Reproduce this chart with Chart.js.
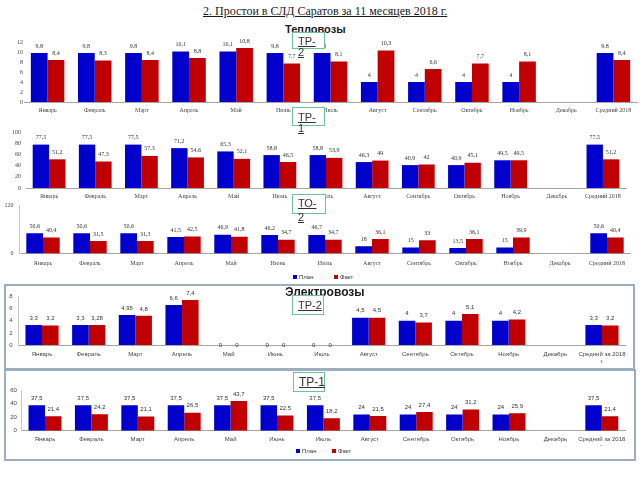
<!DOCTYPE html>
<html lang="ru">
<head>
<meta charset="utf-8">
<script src="https://cdn.jsdelivr.net/npm/chart.js@4"></script>
<style>
  body { margin: 0; background: #fff; }
  #page { position: relative; width: 640px; height: 480px; overflow: hidden; font-family: "Liberation Sans", Arial, sans-serif; }
  canvas { position: absolute; left: 0; }
  .txt { position: absolute; white-space: nowrap; color: #1a1a1a; }
  .tag { position: absolute; box-sizing: border-box; border: 1px solid #6fc295; background: #fff; color: #333; font-size: 11px; text-decoration: underline; padding-left: 5px; }
  .frame { position: absolute; box-sizing: border-box; border: 2px solid #9aaec0; }
  .leg { position: absolute; font-size: 6px; color: #333; white-space: nowrap; }
  .leg i { display: inline-block; width: 4px; height: 4px; margin-right: 2px; vertical-align: middle; }
</style>
</head>
<body>
<div id="page">
  <div class="frame" style="left:4px; top:284px; width:631px; height:86px;"></div>
  <div class="frame" style="left:4px; top:369px; width:632px; height:92px;"></div>

  <canvas id="tepTr2"></canvas>
  <canvas id="tepTr1"></canvas>
  <canvas id="tepTo2"></canvas>
  <canvas id="elTr2"></canvas>
  <canvas id="elTr1"></canvas>

  <div class="txt" style="left:203px; top:4px; font:12px 'Liberation Serif', serif; text-decoration:underline;">2. Простои в СЛД Саратов за 11 месяцев 2018 г.</div>
  <div class="txt" style="left:285px; top:23px; font:bold 11px 'Liberation Sans', Arial, sans-serif;">Тепловозы</div>
  <div class="txt" style="left:285px; top:285px; font:bold 12px 'Liberation Sans', Arial, sans-serif;">Электровозы</div>

  <div class="tag" style="left:292px; top:32px; width:33px; height:17px; line-height:11px; padding-top:3px;">ТР-<br>2</div>
  <div class="tag" style="left:292px; top:107px; width:33px; height:19px; line-height:11px; padding-top:4px;">ТР-<br>1</div>
  <div class="tag" style="left:292px; top:194px; width:34px; height:20px; line-height:14px; padding-top:1px;">ТО-<br>2</div>
  <div class="tag" style="left:292px; top:295px; width:32px; height:20px; line-height:18px; font-family:'Liberation Sans Narrow','Liberation Sans',sans-serif;">ТР-2</div>
  <div class="tag" style="left:293px; top:372px; width:32px; height:20px; line-height:18px; font-size:12px; font-family:'Liberation Sans Narrow','Liberation Sans',sans-serif;">ТР-1</div>

  <div class="leg" style="left:293px; top:274px;"><i style="background:#0000cc"></i>План</div>
  <div class="leg" style="left:334px; top:274px;"><i style="background:#c00000"></i>Факт</div>
  <div class="leg" style="left:296px; top:448px;"><i style="background:#0000cc"></i>План</div>
  <div class="leg" style="left:332px; top:448px;"><i style="background:#c00000"></i>Факт</div>
</div>
<script>
const months = ["Январь", "Февраль", "Март", "Апрель", "Май", "Июнь", "Июль", "Август", "Сентябрь", "Октябрь", "Ноябрь", "Декабрь"];
const tepCats = months.concat(["Средний 2018"]);
const elCats = months.concat([["Средний за 2018", "г."]]);

// Тепловозы ТР-2
const tepTr2Plan = [9.8, 9.8, 9.8, 10.1, 10.1, 9.8, 9.8, 4, 4, 4, 4, null, 9.8];
const tepTr2Fact = [8.4, 8.3, 8.4, 8.8, 10.8, 7.7, 8.1, 10.3, 6.6, 7.7, 8.1, null, 8.4];
const tepTr2Ticks = [0, 2, 4, 6, 8, 10, 12];

// Тепловозы ТР-1
const tepTr1Plan = [77.5, 77.5, 77.5, 71.2, 65.3, 58.8, 58.8, 46.3, 40.9, 40.9, 49.5, null, 77.5];
const tepTr1Fact = [51.2, 47.3, 57.3, 54.6, 52.1, 46.5, 53.9, 49.0, 42.0, 45.1, 49.5, null, 51.2];
const tepTr1Ticks = [0, 20, 40, 60, 80, 100];

// Тепловозы ТО-2
const tepTo2Plan = [50.6, 50.6, 50.6, 41.5, 46.9, 46.2, 46.7, 18, 15, 13.5, 15, null, 50.6];
const tepTo2Fact = [40.4, 31.5, 31.3, 42.5, 41.8, 34.7, 34.7, 36.1, 33, 36.1, 39.9, null, 40.4];
const tepTo2Ticks = [0, 120];

// Электровозы ТР-2
const elTr2Plan = [3.3, 3.3, 4.95, 6.6, 0, 0, 0, 4.5, 4, 4, 4, null, 3.3];
const elTr2Fact = [3.2, 3.28, 4.8, 7.4, 0, 0, 0, 4.5, 3.7, 5.1, 4.2, null, 3.2];
const elTr2Ticks = [0, 2, 4, 6, 8];

// Электровозы ТР-1
const elTr1Plan = [37.5, 37.5, 37.5, 37.5, 37.5, 37.5, 37.5, 24, 24, 24, 24, null, 37.5];
const elTr1Fact = [21.4, 24.2, 21.1, 26.5, 43.7, 22.5, 18.2, 21.5, 27.4, 31.2, 25.9, null, 21.4];
const elTr1Ticks = [0, 20, 40, 60];

const BLUE = "#0000cc";
const RED = "#c00000";
const SERIF = "'Liberation Serif', serif";
const SANS = "'Liberation Sans', Arial, sans-serif";

// values over the bars, with a decimal comma
const valueLabels = {
  id: "valueLabels",
  afterDatasetsDraw(chart, args, opts) {
    const ctx = chart.ctx;
    const base = chart.scales.y.getPixelForValue(0);
    ctx.save();
    ctx.font = opts.font;
    ctx.fillStyle = "#333";
    ctx.textAlign = "center";
    ctx.textBaseline = "middle";
    chart.data.datasets.forEach((ds, i) => {
      chart.getDatasetMeta(i).data.forEach((bar, j) => {
        const v = ds.data[j];
        if (v === null || v === undefined) return;
        const y = v === 0 ? base : bar.y - 7;
        ctx.fillText(String(v).replace(".", ","), bar.x, y);
      });
    });
    ctx.restore();
  }
};

function buildChart(id, cats, plan, fact, yTicks, box) {
  const canvas = document.getElementById(id);
  canvas.width = 640;
  canvas.height = box.height;
  canvas.style.top = box.top + "px";
  const tickFont = { family: box.family, size: 6, lineHeight: 1.15 };

  new Chart(canvas, {
    type: "bar",
    data: {
      labels: cats,
      datasets: [
        { label: "План", data: plan, backgroundColor: BLUE, categoryPercentage: 0.71, barPercentage: 1 },
        { label: "Факт", data: fact, backgroundColor: RED, categoryPercentage: 0.71, barPercentage: 1 }
      ]
    },
    options: {
      responsive: false,
      animation: false,
      layout: { padding: { left: 0, right: 640 - box.right, top: box.areaTop - box.top, bottom: 0 } },
      plugins: {
        legend: { display: false },
        tooltip: { enabled: false },
        valueLabels: { font: "6px " + box.family }
      },
      scales: {
        x: {
          grid: { display: false, drawTicks: false },
          border: { display: true, color: "#a6a6a6" },
          ticks: { font: tickFont, color: "#444", padding: box.xPad, autoSkip: false, maxRotation: 0 },
          afterFit: (s) => { s.height = box.top + box.height - box.areaBottom; }
        },
        y: {
          min: 0,
          max: yTicks[yTicks.length - 1],
          grid: { display: false, drawTicks: false },
          border: { display: box.yLine, color: "#c8c8c8" },
          ticks: { font: tickFont, color: "#444", padding: box.yPad },
          afterBuildTicks: (s) => { s.ticks = yTicks.map((v) => ({ value: v })); },
          afterFit: (s) => { s.width = box.left; }
        }
      }
    },
    plugins: [valueLabels]
  });
}

buildChart("tepTr2", tepCats, tepTr2Plan, tepTr2Fact, tepTr2Ticks,
  { top: 36, height: 80, areaTop: 42, areaBottom: 102, left: 24, right: 637, xPad: 5, yPad: 1, yLine: false, family: SERIF });
buildChart("tepTr1", tepCats, tepTr1Plan, tepTr1Fact, tepTr1Ticks,
  { top: 122, height: 82, areaTop: 132, areaBottom: 188, left: 26, right: 626, xPad: 5, yPad: 5, yLine: false, family: SERIF });
buildChart("tepTo2", tepCats, tepTo2Plan, tepTo2Fact, tepTo2Ticks,
  { top: 196, height: 72, areaTop: 205.7, areaBottom: 253.5, left: 19.5, right: 630.5, xPad: 6, yPad: 6, yLine: true, family: SERIF });
buildChart("elTr2", elCats, elTr2Plan, elTr2Fact, elTr2Ticks,
  { top: 287, height: 80, areaTop: 295, areaBottom: 345, left: 18.7, right: 625.3, xPad: 6, yPad: 6, yLine: true, family: SANS });
buildChart("elTr1", elCats, elTr1Plan, elTr1Fact, elTr1Ticks,
  { top: 380, height: 66, areaTop: 390, areaBottom: 430.7, left: 21.8, right: 625, xPad: 5, yPad: 5, yLine: true, family: SANS });
</script>
</body>
</html>
